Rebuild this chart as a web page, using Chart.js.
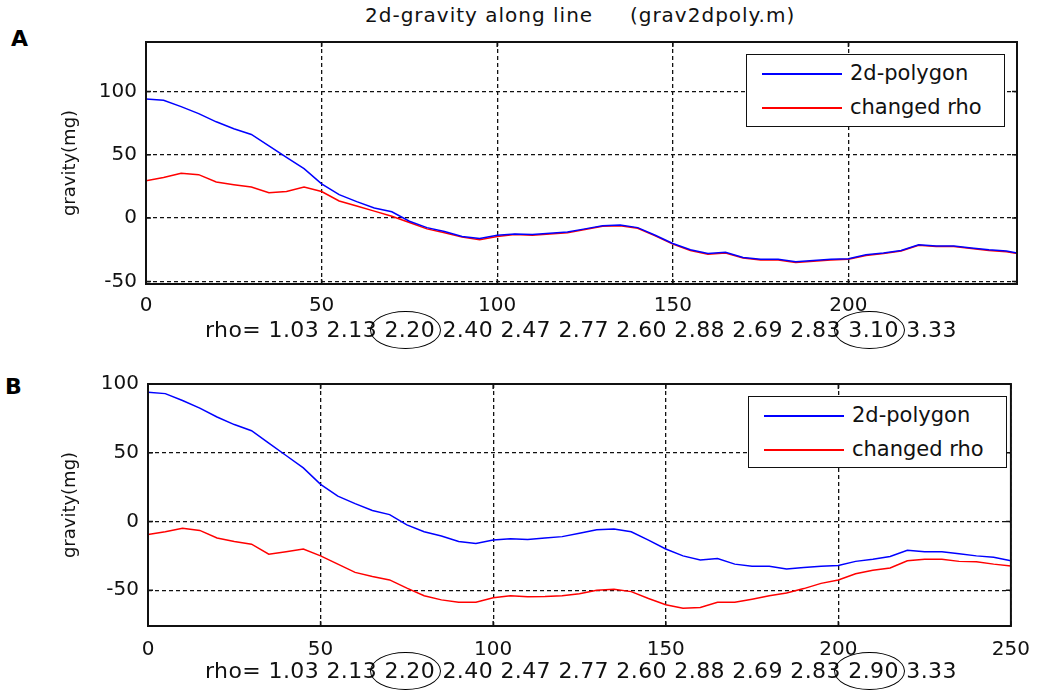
<!DOCTYPE html>
<html>
<head>
	<meta charset="utf-8"/>
	<title>2d-gravity along line</title>
	<script src="https://cdn.jsdelivr.net/npm/chart.js"></script>
	<style type="text/css">
		body { margin:0; background:#fff; }
		#fig { position:relative; width:1042px; height:694px; overflow:hidden; font-family:"DejaVu Sans",sans-serif; color:#111; }
		#fig canvas { position:absolute; left:0; }
		.txt { position:absolute; white-space:pre; }
		.panel { font-family:"DejaVu Sans",sans-serif; font-weight:bold; font-size:22px; color:#000; }
		.ylab { font-size:18px; transform:translate(-50%,-50%) rotate(-90deg); }
		.rho { font-size:22px; letter-spacing:0.4px; }
		.rho .mark { position:relative; }
		.rho .mark::after { content:''; position:absolute; left:-14px; right:-6px; top:-6px; bottom:-7px; border:1.5px solid #000; border-radius:50%; }
		.legend { position:absolute; border:1.5px solid #111; background:#fff; box-sizing:border-box; }
		.legend .row { position:absolute; left:0; font-size:21px; white-space:nowrap; }
		.legend .swatch { position:absolute; left:15px; width:80px; height:0; }
		.legend .lbl { position:absolute; left:103px; }
	</style>
</head>
<body>
<div id="fig">
	<div class="txt" style="left:365px;top:3px;font-size:20px;letter-spacing:1px">2d-gravity along line     (grav2dpoly.m)</div>
	<div class="txt panel" style="left:11px;top:26px">A</div>
	<div class="txt panel" style="left:5px;top:374px">B</div>
	<canvas id="chartA" width="1042" height="340" style="top:0"></canvas>
	<canvas id="chartB" width="1042" height="349" style="top:345px"></canvas>
	<div class="txt ylab" style="left:68px;top:163px">gravity(mg)</div>
	<div class="txt ylab" style="left:68px;top:505px">gravity(mg)</div>
	<div class="txt rho" id="rhoA" style="left:205px;top:317px"></div>
	<div class="txt rho" id="rhoB" style="left:205px;top:658px"></div>
	<div class="legend" id="legA" style="left:746px;top:54px;width:259px;height:73px"></div>
	<div class="legend" id="legB" style="left:748px;top:396px;width:259px;height:72px"></div>
</div>
<script>
// profile positions along the line
const xPos = [0,5,10,15,20,25,30,35,40,45,50,55,60,65,70,75,80,85,90,95,100,
	105,110,115,120,125,130,135,140,145,150,155,160,165,170,175,180,185,190,195,200,
	205,210,215,220,225,230,235,240,245,250];

// 2d-polygon gravity (same model in both panels)
const gravPolygon = [94,93,88,82.5,76,70.5,66,57,48,39,27,
	18.5,13,8,5,-2.5,-7.5,-10.5,-14.5,-16,-13.5,
	-12.5,-13,-12,-11,-8.5,-6,-5.5,-7.5,-13.5,-20,
	-25,-28,-27,-31,-32.5,-32.5,-34.5,-33.5,-32.5,-32,
	-29,-27.5,-25.5,-21,-22,-22,-23.5,-25,-26,-28.5];

// changed rho, panel A (2.20 / 3.10)
const gravRhoA = [29.5,32,35.4,34.3,28.5,26.4,24.5,20,21,24.5,21,
	13.5,9.5,5.5,1.5,-3.5,-8.5,-11.5,-15,-17,-14.5,
	-13,-13.5,-12.5,-11.5,-9,-6.5,-6,-8,-14,-20.5,
	-25.5,-28.5,-27.5,-31.5,-33,-33,-35,-34,-33,-32.5,
	-29.5,-28,-26,-21.5,-22.5,-22.5,-24,-25.5,-26.5,-29];

// changed rho, panel B (2.20 / 2.90)
const gravRhoB = [-9.5,-7.5,-5,-6.5,-12,-14.5,-16.5,-23.8,-22,-20,-25,
	-31,-37,-40,-42.5,-48.5,-54,-57,-58.8,-58.8,-55.5,
	-54,-54.7,-54.5,-54,-52.5,-50,-49.3,-51,-56,-60.5,
	-63,-62.5,-58.8,-58.8,-56.5,-54,-52,-48.8,-45,-42.5,
	-38,-35.5,-33.8,-28.5,-27.5,-27.5,-29,-29.2,-31,-32.3];

const xTicksA = [0,50,100,150,200];
const xTicksB = [0,50,100,150,200,250];
const yTicks = [-50,0,50,100];

const rhoA = ['1.03','2.13','2.20','2.40','2.47','2.77','2.60','2.88','2.69','2.83','3.10','3.33'];
const rhoB = ['1.03','2.13','2.20','2.40','2.47','2.77','2.60','2.88','2.69','2.83','2.90','3.33'];
const rhoMarked = [2,10];

const seriesNames = ['2d-polygon','changed rho'];
const seriesColors = ['#0000ff','#ff0000'];

// box round the axes plus short inward ticks on all four sides
const framePlugin = {
	id: 'frame',
	afterDraw(chart) {
		const ctx = chart.ctx, a = chart.chartArea, sx = chart.scales.x, sy = chart.scales.y;
		ctx.save();
		ctx.strokeStyle = '#111';
		ctx.lineWidth = 2;
		ctx.strokeRect(a.left, a.top, a.right - a.left, a.bottom - a.top);
		ctx.lineWidth = 1.5;
		ctx.beginPath();
		sx.ticks.forEach(function(t){
			const p = sx.getPixelForValue(t.value);
			ctx.moveTo(p, a.bottom); ctx.lineTo(p, a.bottom - 5);
			ctx.moveTo(p, a.top); ctx.lineTo(p, a.top + 5);
		});
		sy.ticks.forEach(function(t){
			const p = sy.getPixelForValue(t.value);
			ctx.moveTo(a.left, p); ctx.lineTo(a.left + 5, p);
			ctx.moveTo(a.right, p); ctx.lineTo(a.right - 5, p);
		});
		ctx.stroke();
		ctx.restore();
	}
};

function makeChart(id, rho, xTicks, xMax, yMin, yMax, leftW, bottomH, topPad, xPad) {
	const pts = function(ys){ return xPos.map(function(x,i){ return {x:x, y:ys[i]}; }); };
	return new Chart(document.getElementById(id), {
		type: 'line',
		data: {
			datasets: [
				{ label: seriesNames[0], data: pts(gravPolygon), borderColor: seriesColors[0], borderWidth: 1.5, pointRadius: 0, tension: 0 },
				{ label: seriesNames[1], data: pts(rho), borderColor: seriesColors[1], borderWidth: 1.5, pointRadius: 0, tension: 0 }
			]
		},
		options: {
			responsive: false,
			animation: false,
			layout: { padding: { top: topPad, right: 25, left: 0, bottom: 0 } },
			plugins: { legend: { display: false }, tooltip: { enabled: false } },
			scales: {
				x: {
					type: 'linear', min: 0, max: xMax,
					afterBuildTicks: function(s){ s.ticks = xTicks.map(function(v){ return {value:v}; }); },
					afterFit: function(s){ s.height = bottomH; },
					grid: { color: '#111', lineWidth: 1.3, drawTicks: false },
					border: { display: false, dash: [4,3] },
					ticks: { padding: xPad, color: '#111', font: { family: 'DejaVu Sans', size: 20 }, maxRotation: 0 }
				},
				y: {
					type: 'linear', min: yMin, max: yMax,
					afterBuildTicks: function(s){ s.ticks = yTicks.map(function(v){ return {value:v}; }); },
					afterFit: function(s){ s.width = leftW; },
					grid: { color: '#111', lineWidth: 1.3, drawTicks: false },
					border: { display: false, dash: [4,3] },
					ticks: { padding: 9, color: '#111', font: { family: 'DejaVu Sans', size: 20 } }
				}
			}
		},
		plugins: [framePlugin]
	});
}

function fillRho(id, vals) {
	const el = document.getElementById(id);
	el.innerHTML = 'rho= ' + vals.map(function(v,i){
		return rhoMarked.indexOf(i) >= 0 ? '<span class="mark">' + v + '</span>' : v;
	}).join(' ');
}

function fillLegend(id) {
	const el = document.getElementById(id);
	seriesNames.forEach(function(name,i){
		const row = document.createElement('div');
		row.className = 'row';
		row.style.top = (i === 0 ? 6 : 40) + 'px';
		row.innerHTML = '<span class="swatch" style="top:12px;border-top:2px solid ' + seriesColors[i] + '"></span>' +
			'<span class="lbl">' + name + '</span>';
		el.appendChild(row);
	});
}

makeChart('chartA', gravRhoA, xTicksA, 248, -52, 139, 146, 56, 42, 10);
makeChart('chartB', gravRhoB, xTicksB, 250, -76, 100, 148, 68, 39, 12);
fillRho('rhoA', rhoA);
fillRho('rhoB', rhoB);
fillLegend('legA');
fillLegend('legB');
</script>
</body>
</html>
